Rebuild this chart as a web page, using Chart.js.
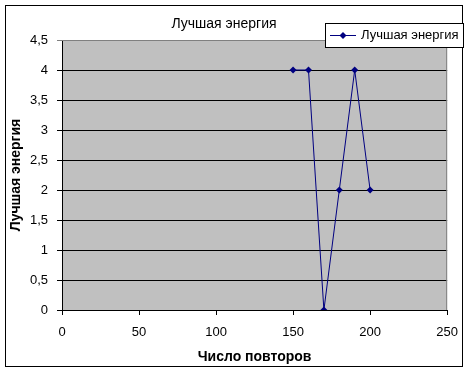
<!DOCTYPE html>
<html>
<head>
<meta charset="utf-8">
<script src="https://cdn.jsdelivr.net/npm/chart.js@4.4.0/dist/chart.umd.min.js"></script>
<style>
  body { margin: 0; background: #fff; }
  #wrap { width: 468px; height: 372px; }
</style>
</head>
<body>
<div id="wrap"><canvas id="graphCanvas" width="468" height="372"></canvas></div>
<script>
// data
var povtory = [150, 160, 170, 180, 190, 200];
var energiya = [4, 4, 0, 2, 4, 2];
var seriesName = 'Лучшая энергия';
var titleText = 'Лучшая энергия';
var xTitle = 'Число повторов';
var yTitle = 'Лучшая энергия';

var FONT = '"Liberation Sans", Arial, sans-serif';
var NAVY = '#000080';

var points = [];
for (var i in povtory) {
  points.push({ x: povtory[i], y: energiya[i] });
}

// white page, outer frame, grey plot area
var frame = {
  id: 'frame',
  beforeDraw: function (chart) {
    var ctx = chart.ctx, a = chart.chartArea;
    ctx.save();
    ctx.fillStyle = '#fff';
    ctx.fillRect(0, 0, chart.width, chart.height);
    ctx.strokeStyle = '#000';
    ctx.lineWidth = 1;
    ctx.strokeRect(5.5, 5.5, 457, 361);
    ctx.fillStyle = '#c0c0c0';
    ctx.fillRect(a.left, a.top, a.right - a.left, a.bottom - a.top);
    ctx.restore();
  },
  beforeDatasetsDraw: function (chart) {
    var ctx = chart.ctx, a = chart.chartArea;
    ctx.save();
    ctx.strokeStyle = '#808080';
    ctx.lineWidth = 1;
    ctx.beginPath();
    ctx.moveTo(a.left, a.top + 0.5);
    ctx.lineTo(a.right - 0.5, a.top + 0.5);
    ctx.lineTo(a.right - 0.5, a.bottom);
    ctx.stroke();
    ctx.restore();
  },
  afterDraw: function (chart) {
    // legend box, Excel style
    var ctx = chart.ctx;
    var ds = chart.data.datasets[0];
    ctx.save();
    ctx.fillStyle = '#fff';
    ctx.fillRect(325.5, 23.5, 138, 24);
    ctx.strokeStyle = '#000';
    ctx.lineWidth = 1;
    ctx.strokeRect(325.5, 23.5, 138, 24);
    ctx.strokeStyle = NAVY;
    ctx.beginPath();
    ctx.moveTo(330, 35.5);
    ctx.lineTo(356, 35.5);
    ctx.stroke();
    ctx.fillStyle = NAVY;
    ctx.beginPath();
    ctx.moveTo(343, 32);
    ctx.lineTo(346.5, 35.5);
    ctx.lineTo(343, 39);
    ctx.lineTo(339.5, 35.5);
    ctx.closePath();
    ctx.fill();
    ctx.fillStyle = '#000';
    ctx.font = '13px ' + FONT;
    ctx.textBaseline = 'middle';
    ctx.fillText(ds.label, 361, 35.5);
    ctx.restore();
  }
};

var chartdata = {
  datasets: [
    {
      label: seriesName,
      data: points,
      showLine: true,
      borderColor: NAVY,
      backgroundColor: NAVY,
      borderWidth: 1,
      pointStyle: 'rectRot',
      pointRadius: 3.5,
      pointBorderWidth: 0,
      tension: 0
    }
  ]
};

var graphTarget = document.getElementById('graphCanvas');
var lineGraph = new Chart(graphTarget, {
  type: 'scatter',
  data: chartdata,
  plugins: [frame],
  options: {
    responsive: false,
    animation: false,
    devicePixelRatio: 1,
    layout: { padding: { left: 0, right: 20, top: 0, bottom: 0 } },
    plugins: {
      legend: { display: false },
      tooltip: { enabled: false },
      title: {
        display: true,
        text: titleText,
        color: '#000',
        font: { family: FONT, size: 14, weight: 'normal', lineHeight: 1.2 },
        padding: { top: 16, bottom: 7.2 }
      }
    },
    scales: {
      x: {
        type: 'linear',
        min: 0,
        max: 250,
        ticks: {
          stepSize: 50,
          color: '#000',
          padding: 10,
          maxRotation: 0,
          font: { family: FONT, size: 13 }
        },
        grid: { drawOnChartArea: false, drawTicks: true, tickLength: 5, color: '#000' },
        border: { color: '#000' },
        title: {
          display: true,
          text: xTitle,
          color: '#000',
          font: { family: FONT, size: 14, weight: 'bold' },
          padding: { top: 0, bottom: 6 }
        },
        afterFit: function (scale) { scale.height = 62; }
      },
      y: {
        min: 0,
        max: 4.5,
        ticks: {
          stepSize: 0.5,
          color: '#000',
          padding: 9,
          font: { family: FONT, size: 13 },
          callback: function (v) { return String(v).replace('.', ','); }
        },
        grid: {
          drawTicks: true,
          tickLength: 5,
          color: function (c) { return c.tick && c.tick.value === 4.5 ? '#808080' : '#000'; }
        },
        border: { color: '#000' },
        title: {
          display: true,
          text: yTitle,
          color: '#000',
          font: { family: FONT, size: 14, weight: 'bold' },
          padding: { top: 8, bottom: 0 }
        },
        afterFit: function (scale) { scale.width = 62; }
      }
    }
  }
});
</script>
</body>
</html>
